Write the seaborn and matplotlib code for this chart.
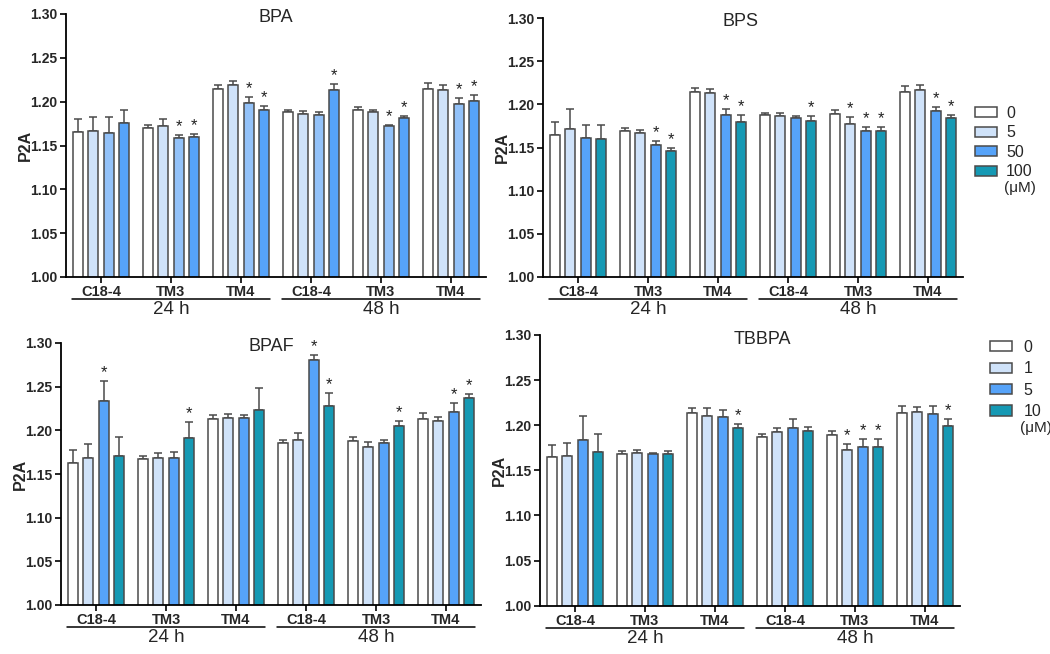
import numpy as np
import pandas as pd
import matplotlib
matplotlib.use("Agg")
import matplotlib.pyplot as plt
import matplotlib.transforms as mtransforms
from matplotlib.patches import Patch
import seaborn as sns

sns.set_style("ticks")
plt.rcParams["font.family"] = ["Liberation Sans", "DejaVu Sans"]

# ---------------- data ----------------
cells = ["C18-4", "TM3", "TM4"]
times = ["24 h", "48 h"]
groups = [f"{t}|{c}" for t in times for c in cells]

doses_bis = ["0", "5", "50", "100"]
doses_tbbpa = ["0", "1", "5", "10"]

bpa_mean = [
    [1.165, 1.1695, 1.215, 1.188, 1.190, 1.214],
    [1.167, 1.172, 1.219, 1.186, 1.188, 1.213],
    [1.164, 1.159, 1.199, 1.1845, 1.172, 1.197],
    [1.1755, 1.160, 1.191, 1.213, 1.181, 1.2005],
]
bpa_err = [
    [0.015, 0.004, 0.0045, 0.003, 0.0035, 0.007],
    [0.0155, 0.008, 0.0045, 0.003, 0.002, 0.006],
    [0.0185, 0.003, 0.006, 0.004, 0.001, 0.007],
    [0.0145, 0.0027, 0.004, 0.007, 0.003, 0.0076],
]
bpa_star = [
    [0, 0, 0, 0, 0, 0],
    [0, 0, 0, 0, 0, 0],
    [0, 1, 1, 0, 1, 1],
    [0, 1, 1, 1, 1, 1],
]

bps_mean = [
    [1.1646, 1.169, 1.2145, 1.1874, 1.1893, 1.2141],
    [1.1715, 1.1665, 1.2126, 1.1866, 1.177, 1.2165],
    [1.161, 1.1533, 1.1882, 1.1843, 1.1689, 1.192],
    [1.160, 1.1463, 1.1793, 1.1808, 1.1692, 1.184],
]
bps_err = [
    [0.0144, 0.0034, 0.0047, 0.0026, 0.004, 0.0074],
    [0.0229, 0.004, 0.0046, 0.0032, 0.008, 0.0062],
    [0.0155, 0.004, 0.0062, 0.0027, 0.0053, 0.0054],
    [0.0158, 0.0027, 0.0087, 0.0058, 0.0043, 0.0038],
]
bps_star = [
    [0, 0, 0, 0, 0, 0],
    [0, 0, 0, 0, 1, 0],
    [0, 1, 1, 0, 1, 1],
    [0, 1, 1, 1, 1, 1],
]

bpaf_mean = [
    [1.163, 1.1676, 1.2131, 1.186, 1.1875, 1.2127],
    [1.168, 1.168, 1.2146, 1.189, 1.181, 1.2111],
    [1.234, 1.168, 1.2146, 1.281, 1.186, 1.2214],
    [1.171, 1.191, 1.223, 1.228, 1.205, 1.2371],
]
bpaf_err = [
    [0.015, 0.0034, 0.0042, 0.003, 0.0045, 0.0076],
    [0.016, 0.006, 0.0044, 0.008, 0.006, 0.004],
    [0.022, 0.007, 0.003, 0.005, 0.0034, 0.010],
    [0.021, 0.019, 0.025, 0.0145, 0.006, 0.005],
]
bpaf_star = [
    [0, 0, 0, 0, 0, 0],
    [0, 0, 0, 0, 0, 0],
    [1, 0, 0, 1, 0, 1],
    [0, 1, 0, 1, 1, 1],
]

tbbpa_mean = [
    [1.1644, 1.168, 1.2137, 1.187, 1.189, 1.2137],
    [1.1656, 1.1697, 1.210, 1.192, 1.173, 1.2144],
    [1.1838, 1.1678, 1.2086, 1.1967, 1.1763, 1.213],
    [1.170, 1.1678, 1.1974, 1.1933, 1.176, 1.1997],
]
tbbpa_err = [
    [0.0142, 0.0037, 0.005, 0.003, 0.0043, 0.0077],
    [0.0144, 0.0033, 0.0086, 0.0047, 0.0059, 0.0056],
    [0.0266, 0.0015, 0.0084, 0.0107, 0.0086, 0.008],
    [0.0208, 0.0041, 0.0041, 0.0047, 0.009, 0.0073],
]
tbbpa_star = [
    [0, 0, 0, 0, 0, 0],
    [0, 0, 0, 0, 1, 0],
    [0, 0, 0, 0, 1, 0],
    [0, 0, 1, 0, 1, 1],
]

yticks = [1.00, 1.05, 1.10, 1.15, 1.20, 1.25, 1.30]

# ---------------- style ----------------
EDGE = "#4a4a4a"
pal_bpa = ["#ffffff", "#cfe2f9", "#93c2f9", "#56a3f9"]
pal_main = ["#ffffff", "#cfe2f9", "#56a3f9", "#1599b4"]

fig = plt.figure(figsize=(10.5, 6.54), dpi=100)
W, H = 1050, 654


def add_ax(x0, x1, ytop, ybot):
    return fig.add_axes([x0 / W, 1 - ybot / H, (x1 - x0) / W, (ybot - ytop) / H])


def panel(ax, title, title_x, means, errs, stars, doses, palette):
    rows = []
    for d, m in zip(doses, means):
        for g, v in zip(groups, m):
            rows.append({"group": g, "dose": d, "P2A": v})
    df = pd.DataFrame(rows)
    sns.barplot(data=df, x="group", y="P2A", hue="dose", order=groups,
                hue_order=doses, palette=palette, saturation=1, width=0.876,
                gap=0.35, edgecolor=EDGE, linewidth=1.1, errorbar=None,
                legend=False, ax=ax, zorder=2)
    bar_conts = list(ax.containers)
    for i, cont in enumerate(bar_conts):
        for j, bar in enumerate(cont.patches):
            xc = bar.get_x() + bar.get_width() / 2
            m = means[i][j]
            e = errs[i][j]
            ax.errorbar(xc, m, yerr=[[0], [e]], fmt="none", ecolor=EDGE,
                        elinewidth=1.1, capsize=3, capthick=1.1, zorder=1)
            if stars[i][j]:
                ax.text(xc, m + e + 0.001, "*", ha="center", va="bottom",
                        fontsize=12, color="#222222")
    ax.set_xlim(-0.5, 5.5)
    ax.set_ylim(1.0, 1.30)
    ax.set_yticks(yticks)
    ax.set_yticklabels([f"{t:.2f}" for t in yticks], fontweight="bold", fontsize=10)
    ax.set_xticks(range(len(groups)))
    ax.set_xticklabels([g.split("|")[1] for g in groups], fontweight="bold",
                       fontsize=10.5)
    ax.set_xlabel("")
    ax.set_ylabel("P2A", fontweight="bold", fontsize=11.5)
    ax.yaxis.set_label_coords(-0.079, 0.5)
    for s in ["top", "right"]:
        ax.spines[s].set_visible(False)
    for s in ["left", "bottom"]:
        ax.spines[s].set_linewidth(1.3)
        ax.spines[s].set_color("black")
    ax.tick_params(axis="both", length=4, width=1.2, color="black", pad=2)
    ax.tick_params(axis="x", pad=2)
    ax.text(title_x, 0.985, title, transform=ax.transAxes, ha="center",
            va="center", fontsize=13)
    # time group underlines and labels
    tr_line = ax.get_xaxis_transform() + mtransforms.ScaledTranslation(
        0, -22 / 100, fig.dpi_scale_trans)
    tr_text = ax.get_xaxis_transform() + mtransforms.ScaledTranslation(
        0, -33 / 100, fig.dpi_scale_trans)
    for k, t in enumerate(times):
        x0 = 3 * k - 0.42
        x1 = 3 * k + 2.42
        ax.plot([x0, x1], [0, 0], color="black", lw=1.1, transform=tr_line,
                clip_on=False)
        ax.text(3 * k + 1, 0, t, transform=tr_text, ha="center", va="center",
                fontsize=13.5)


ax1 = add_ax(66, 486, 14, 277)
ax2 = add_ax(543, 963, 18, 277)
ax3 = add_ax(61, 481, 343, 605)
ax4 = add_ax(540, 960, 335, 605.7)

panel(ax1, "BPA", 0.5, bpa_mean, bpa_err, bpa_star, doses_bis, pal_bpa)
panel(ax2, "BPS", 0.47, bps_mean, bps_err, bps_star, doses_bis, pal_main)
panel(ax3, "BPAF", 0.5, bpaf_mean, bpaf_err, bpaf_star, doses_tbbpa, pal_main)
panel(ax4, "TBBPA", 0.53, tbbpa_mean, tbbpa_err, tbbpa_star, doses_tbbpa, pal_main)

# legends
h1 = [Patch(facecolor=c, edgecolor=EDGE, linewidth=1.1) for c in pal_main]
leg1 = fig.legend(h1, doses_bis, loc="upper left",
                  bbox_to_anchor=(975 / W, 1 - 106 / H), frameon=False,
                  fontsize=11.5, handlelength=1.35, handleheight=0.6,
                  labelspacing=0.28, handletextpad=0.6, borderaxespad=0,
                  borderpad=0)
fig.text(1004 / W, 1 - 188 / H, "(\u03bcM)", fontsize=11, va="center")

leg2 = fig.legend(h1, doses_tbbpa, loc="upper left",
                  bbox_to_anchor=(990 / W, 1 - 340 / H), frameon=False,
                  fontsize=11.5, handlelength=1.35, handleheight=0.6,
                  labelspacing=0.4, handletextpad=0.75, borderaxespad=0,
                  borderpad=0)
fig.text(1020 / W, 1 - 428 / H, "(\u03bcM)", fontsize=11, va="center")

fig.savefig("out.png", dpi=100)
